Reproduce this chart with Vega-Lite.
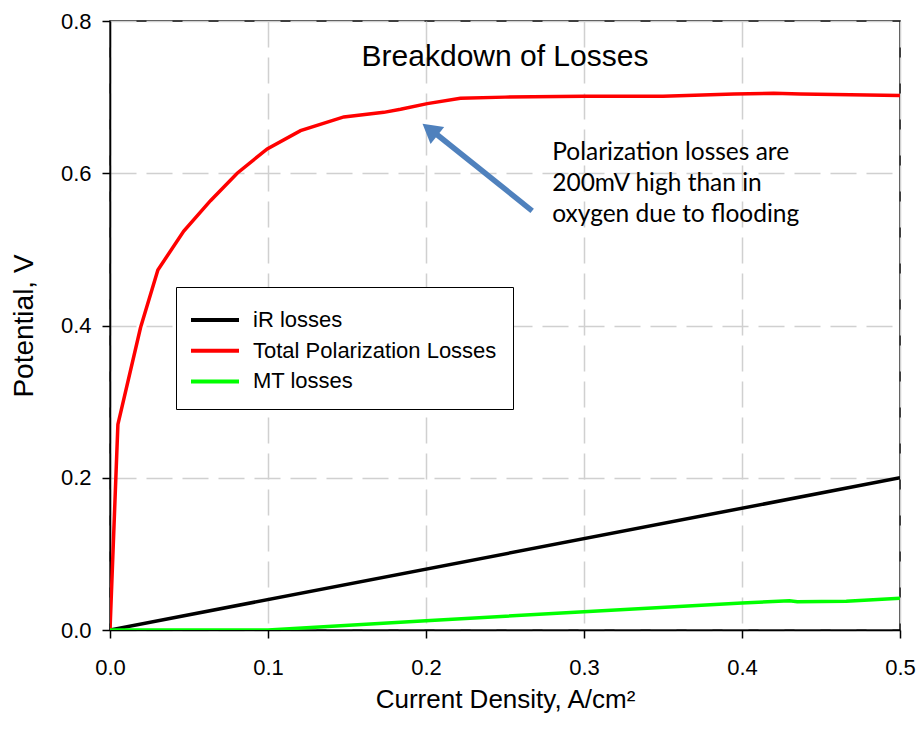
{
  "$schema": "https://vega.github.io/schema/vega-lite/v6.json",
  "width": 790,
  "height": 609,
  "autosize": {"type": "none"},
  "padding": {"left": 110, "top": 21, "right": 18, "bottom": 105},
  "background": "white",
  "config": {
    "view": {"stroke": "black", "strokeWidth": 1.5},
    "font": "Liberation Sans",
    "axis": {
      "labelFont": "Liberation Sans",
      "labelFontSize": 22,
      "labelColor": "black",
      "labelFlush": false,
      "titleFont": "Liberation Sans",
      "titleFontSize": 26,
      "titleFontWeight": "normal",
      "titleColor": "black",
      "domainColor": "black",
      "domainWidth": 1.5,
      "tickColor": "black",
      "tickWidth": 1.5,
      "tickSize": 8,
      "gridColor": "#d0d0d0",
      "gridWidth": 1.5,
      "gridDash": [26, 10]
    },
    "legend": {
      "labelFont": "Liberation Sans",
      "labelFontSize": 22,
      "labelColor": "black",
      "labelLimit": 400
    }
  },
  "layer": [
    {
      "data": {
        "values": [
          {"series": "iR losses", "x": 0, "y": 0},
          {"series": "iR losses", "x": 0.5, "y": 0.2},
          {"series": "Total Polarization Losses", "x": 0, "y": 0},
          {"series": "Total Polarization Losses", "x": 0.005, "y": 0.27},
          {"series": "Total Polarization Losses", "x": 0.0193, "y": 0.397},
          {"series": "Total Polarization Losses", "x": 0.0303, "y": 0.473},
          {"series": "Total Polarization Losses", "x": 0.0467, "y": 0.524},
          {"series": "Total Polarization Losses", "x": 0.0636, "y": 0.564},
          {"series": "Total Polarization Losses", "x": 0.0805, "y": 0.6},
          {"series": "Total Polarization Losses", "x": 0.0995, "y": 0.632},
          {"series": "Total Polarization Losses", "x": 0.1206, "y": 0.656},
          {"series": "Total Polarization Losses", "x": 0.148, "y": 0.674},
          {"series": "Total Polarization Losses", "x": 0.1733, "y": 0.68},
          {"series": "Total Polarization Losses", "x": 0.1839, "y": 0.684},
          {"series": "Total Polarization Losses", "x": 0.2008, "y": 0.6915},
          {"series": "Total Polarization Losses", "x": 0.2218, "y": 0.6985},
          {"series": "Total Polarization Losses", "x": 0.25, "y": 0.7},
          {"series": "Total Polarization Losses", "x": 0.3, "y": 0.701},
          {"series": "Total Polarization Losses", "x": 0.35, "y": 0.701},
          {"series": "Total Polarization Losses", "x": 0.395, "y": 0.704},
          {"series": "Total Polarization Losses", "x": 0.42, "y": 0.705},
          {"series": "Total Polarization Losses", "x": 0.437, "y": 0.704},
          {"series": "Total Polarization Losses", "x": 0.5, "y": 0.702},
          {"series": "MT losses", "x": 0, "y": 0},
          {"series": "MT losses", "x": 0.1, "y": 0},
          {"series": "MT losses", "x": 0.2, "y": 0.0122},
          {"series": "MT losses", "x": 0.3, "y": 0.024},
          {"series": "MT losses", "x": 0.4, "y": 0.0355},
          {"series": "MT losses", "x": 0.43, "y": 0.0385},
          {"series": "MT losses", "x": 0.435, "y": 0.0372},
          {"series": "MT losses", "x": 0.466, "y": 0.0377},
          {"series": "MT losses", "x": 0.5, "y": 0.0416}
        ]
      },
      "mark": {"type": "line", "strokeWidth": 3.5, "clip": true},
      "encoding": {
        "x": {
          "field": "x",
          "type": "quantitative",
          "scale": {"domain": [0, 0.5], "nice": false},
          "axis": {
            "values": [0, 0.1, 0.2, 0.3, 0.4, 0.5],
            "format": ".1f",
            "labelPadding": 19,
            "title": "Current Density, A/cm²",
            "titlePadding": 8
          }
        },
        "y": {
          "field": "y",
          "type": "quantitative",
          "scale": {"domain": [0, 0.8], "nice": false},
          "axis": {
            "values": [0, 0.2, 0.4, 0.6, 0.8],
            "format": ".1f",
            "labelPadding": 11,
            "title": "Potential, V",
            "titleFontSize": 28,
            "titlePadding": 22
          }
        },
        "color": {
          "field": "series",
          "type": "nominal",
          "scale": {
            "domain": ["iR losses", "Total Polarization Losses", "MT losses"],
            "range": ["black", "red", "#00ff00"]
          },
          "legend": {
            "title": null,
            "orient": "none",
            "legendX": 66,
            "legendY": 266,
            "symbolType": "M-1.6,0H1.6",
            "symbolSize": 900,
            "symbolStrokeWidth": 4,
            "symbolFillColor": "transparent",
            "symbolOffset": 6,
            "labelOffset": 21,
            "rowPadding": 2.7,
            "padding": 16,
            "strokeColor": "black",
            "fillColor": "white"
          }
        },
        "order": {"field": "x", "type": "quantitative"}
      }
    },
    {
      "data": {"values": [{"label": "Breakdown of Losses", "x": 0.25, "y": 0.741}]},
      "mark": {"type": "text", "align": "center", "baseline": "alphabetic", "fontSize": 30, "font": "Liberation Sans", "color": "black"},
      "encoding": {
        "x": {"field": "x", "type": "quantitative"},
        "y": {"field": "y", "type": "quantitative"},
        "text": {"field": "label"}
      }
    },
    {
      "data": {"values": [{"x": 0.2799, "y": 0.6171}]},
      "mark": {
        "type": "text",
        "align": "left",
        "baseline": "alphabetic",
        "fontSize": 24.5,
        "font": "Lato",
        "lineHeight": 31,
        "color": "black",
        "text": ["Polarization losses are", "200mV high than in", "oxygen due to flooding"]
      },
      "encoding": {
        "x": {"field": "x", "type": "quantitative"},
        "y": {"field": "y", "type": "quantitative"}
      }
    },
    {
      "data": {"values": [{"x": 0.2672, "y": 0.5506, "x2": 0.2035, "y2": 0.6565}]},
      "mark": {"type": "rule", "color": "#4F81BD", "strokeWidth": 5.5},
      "encoding": {
        "x": {"field": "x", "type": "quantitative"},
        "y": {"field": "y", "type": "quantitative"},
        "x2": {"field": "x2"},
        "y2": {"field": "y2"}
      }
    },
    {
      "data": {"values": [{"x": 0.2025, "y": 0.6573}]},
      "mark": {"type": "point", "shape": "triangle-up", "filled": true, "size": 480, "angle": 308.5, "color": "#4F81BD", "opacity": 1},
      "encoding": {
        "x": {"field": "x", "type": "quantitative"},
        "y": {"field": "y", "type": "quantitative"}
      }
    }
  ]
}
